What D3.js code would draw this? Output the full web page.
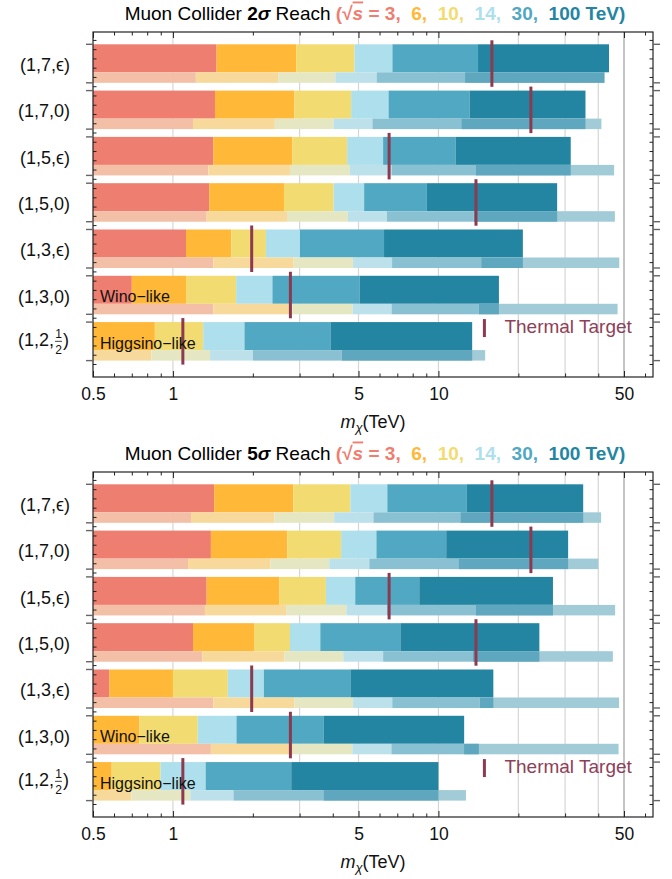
<!DOCTYPE html>
<html>
<head>
<meta charset="utf-8">
<script src="https://cdn.jsdelivr.net/npm/d3@7"></script>
<style>
  body { margin: 0; background: #fff; }
  text { font-family: "Liberation Sans", Arial, sans-serif; }
</style>
</head>
<body>
<div id="chart"></div>
<script>
// row labels (multiplets) and collider energies
var rowLabels = ["(1,7,ϵ)", "(1,7,0)", "(1,5,ϵ)", "(1,5,0)", "(1,3,ϵ)", "(1,3,0)", "(1,2,½)"];
var energies = ["3", "6", "10", "14", "30", "100"];

// reach in TeV, main (thick) bars, per row: 3, 6, 10, 14, 30, 100 TeV
var reach2 = [
  [1.46, 2.92, 4.83, 6.71, 14.1, 43.9],
  [1.44, 2.87, 4.69, 6.49, 13.1, 35.8],
  [1.42, 2.82, 4.53, 6.19, 11.6, 31.5],
  [1.37, 2.62, 4.03, 5.25, 9.05, 28.0],
  [1.12, 1.66, 2.24, 3.01, 6.24, 20.8],
  [0.70, 1.12, 1.73, 2.37, 5.05, 16.9],
  [0.5, 0.855, 1.30, 1.86, 3.92, 13.4]
];
// thin bars (second estimate) per row
var reach2b = [
  [1.22, 2.49, 4.09, 5.85, 12.6, 42.2],
  [1.19, 2.42, 4.03, 5.64, 12.2, 41.1],
  [1.36, 2.76, 4.64, 6.66, 13.8, 45.9],
  [1.34, 2.69, 4.56, 6.40, 13.6, 46.2],
  [1.42, 2.85, 4.77, 6.69, 14.5, 48.0],
  [1.42, 2.82, 4.75, 6.66, 14.2, 47.3],
  [0.5, 0.83, 1.38, 2.0, 4.32, 15.0]
];
var reach5 = [
  [1.43, 2.84, 4.66, 6.42, 12.8, 35.1],
  [1.39, 2.70, 4.30, 5.84, 10.7, 30.8],
  [1.34, 2.52, 3.77, 4.86, 8.47, 27.0],
  [1.19, 2.02, 2.76, 3.59, 7.19, 24.0],
  [0.576, 1.0, 1.61, 2.20, 4.66, 16.1],
  [0.5, 0.748, 1.24, 1.735, 3.69, 12.5],
  [0.5, 0.588, 0.898, 1.328, 2.79, 10.0]
];
var reach5b = [
  [1.17, 2.41, 4.05, 5.69, 12.1, 41.0],
  [1.14, 2.33, 3.88, 5.49, 11.9, 40.0],
  [1.32, 2.67, 4.50, 6.40, 13.8, 46.3],
  [1.29, 2.63, 4.38, 6.19, 13.5, 45.4],
  [1.42, 2.87, 4.77, 6.70, 14.3, 47.9],
  [1.39, 2.83, 4.74, 6.65, 14.2, 47.7],
  [0.5, 0.698, 1.162, 1.69, 3.69, 12.7]
];
// thermal target masses (TeV)
var thermal = [15.9, 22.3, 6.52, 13.85, 1.98, 2.77, 1.09];
var thermalLegendAt = 14.9;

var xTickLabels = [0.5, 1, 5, 10, 50];
var xMinor = [0.6, 0.7, 0.8, 0.9, 2, 3, 4, 6, 7, 8, 9, 20, 30, 40, 60];
var gridAt = [1, 3, 5, 10, 20, 30, 40, 50];

var thickCol = ["#ed7e70", "#ffb838", "#f2dc71", "#ade0ec", "#51a8c2", "#2385a2"];
var thinCol = ["#f4bfa7", "#f7da9b", "#e4e7c2", "#bde1ea", "#8ac1d2", "#a2cbd8"];
var midCol = "#5fa7be";
var thermalCol = "#8b3a50";

var W = 672, H = 879;
var svg = d3.select("#chart").append("svg")
  .attr("width", W).attr("height", H);
svg.append("rect").attr("width", W).attr("height", H).attr("fill", "#fff");

var x = d3.scaleLog().domain([0.5, 64.3]).range([93, 653]);
var frameTop = 32, frameBot = 377;
var y = d3.scaleBand().domain(d3.range(rowLabels.length))
  .range([44.3, 360.6]).paddingInner(0.168).paddingOuter(0);
var bw = y.bandwidth();
var thickH = bw * 0.727;

function drawPanel(off, sigma, thick, thin) {
  var g = svg.append("g").attr("transform", "translate(0," + off + ")");

  // title
  var t = g.append("text").attr("x", 375).attr("y", 19.5)
    .attr("text-anchor", "middle").attr("font-size", 19)
    .style("white-space", "pre");
  t.append("tspan").text("Muon Collider ");
  t.append("tspan").attr("font-weight", "bold").text(sigma);
  t.append("tspan").attr("font-weight", "bold").attr("font-style", "italic").text("σ");
  t.append("tspan").text(" Reach ");
  t.append("tspan").attr("font-weight", "bold").attr("fill", thickCol[0]).text("(√");
  t.append("tspan").attr("font-weight", "bold").attr("font-style", "italic")
    .attr("fill", thickCol[0]).style("text-decoration", "overline").text("s");
  t.append("tspan").attr("font-weight", "bold").attr("fill", thickCol[0]).text(" = 3,");
  energies.slice(1).forEach(function(e, i) {
    t.append("tspan").attr("font-weight", "bold").attr("fill", thickCol[i + 1])
      .text("  " + e + (i == 4 ? " TeV)" : ","));
  });

  // grid lines
  g.selectAll(".grid").data(gridAt).enter().append("line")
    .attr("x1", function(d) { return x(d); }).attr("x2", function(d) { return x(d); })
    .attr("y1", frameTop).attr("y2", frameBot)
    .attr("stroke", function(d) { return d == 50 ? "#c4c4c4" : "#d6d6d6"; })
    .attr("stroke-width", function(d) { return d == 50 ? 2 : 1.2; });

  // thick bars
  thick.forEach(function(ends, r) {
    ends.forEach(function(e, j) {
      var s = j == 0 ? 0.5 : ends[j - 1];
      if (e <= s) return;
      g.append("rect").attr("x", x(s)).attr("y", y(r))
        .attr("width", x(e) - x(s)).attr("height", thickH)
        .attr("fill", thickCol[j]);
    });
  });

  // thin bars
  thin.forEach(function(ends, r) {
    var yy = y(r) + thickH, hh = bw - thickH;
    ends.forEach(function(e, j) {
      var s = j == 0 ? 0.5 : ends[j - 1];
      if (e <= s) return;
      g.append("rect").attr("x", x(s)).attr("y", yy)
        .attr("width", x(e) - x(s)).attr("height", hh)
        .attr("fill", thinCol[j]);
    });
    // overlap band between 30 TeV thin end and 100 TeV main end
    var a = ends[4], T = thick[r][5];
    var lo = Math.min(a, T), hi = Math.min(Math.max(a, T), ends[5]);
    if (hi > lo) {
      g.append("rect").attr("x", x(lo)).attr("y", yy)
        .attr("width", x(hi) - x(lo)).attr("height", hh)
        .attr("fill", midCol);
    }
  });

  // thermal target
  g.selectAll(".therm").data(thermal).enter().append("line")
    .attr("x1", function(d) { return x(d); }).attr("x2", function(d) { return x(d); })
    .attr("y1", function(d, i) { return y(i) - 4; })
    .attr("y2", function(d, i) { return y(i) + bw + 4; })
    .attr("stroke", thermalCol).attr("stroke-width", 3);

  g.append("line").attr("x1", x(thermalLegendAt)).attr("x2", x(thermalLegendAt))
    .attr("y1", y(6) - 3).attr("y2", y(6) + 15)
    .attr("stroke", thermalCol).attr("stroke-width", 3);
  g.append("text").attr("x", x(thermalLegendAt) + 20).attr("y", y(6) + 11)
    .attr("font-size", 19).attr("fill", "#8e4058").text("Thermal Target");

  g.append("text").attr("x", 100).attr("y", y(5) + 26.5)
    .attr("font-size", 16).attr("fill", "#111").text("Wino−like");
  g.append("text").attr("x", 100).attr("y", y(6) + 26.5)
    .attr("font-size", 16).attr("fill", "#111").text("Higgsino−like");

  // frame
  g.append("rect").attr("x", 93).attr("y", frameTop)
    .attr("width", 653 - 93).attr("height", frameBot - frameTop)
    .attr("fill", "none").attr("stroke", "#222").attr("stroke-width", 1.2);

  // x axes
  var bot = g.append("g").attr("transform", "translate(0," + frameBot + ")")
    .call(d3.axisBottom(x).tickValues(xTickLabels).tickSize(-6).tickPadding(11)
      .tickFormat(function(d) { return d; }));
  g.append("g").attr("transform", "translate(0," + frameBot + ")")
    .call(d3.axisBottom(x).tickValues(xMinor).tickSize(-3.5).tickFormat(""));
  g.append("g").attr("transform", "translate(0," + frameTop + ")")
    .call(d3.axisTop(x).tickValues(xTickLabels).tickSize(-6).tickFormat(""));
  g.append("g").attr("transform", "translate(0," + frameTop + ")")
    .call(d3.axisTop(x).tickValues(xMinor).tickSize(-3.5).tickFormat(""));
  g.selectAll(".domain").remove();
  g.selectAll(".tick line").attr("stroke", "#222");
  bot.selectAll(".tick text").attr("font-size", 17.5).attr("fill", "#111")
    .attr("font-family", "Liberation Sans, Arial, sans-serif");

  // y ticks
  var step = y.step();
  var minor = d3.range(0, 36).map(function(k) { return y(0) - (step - bw) / 2 + k * step / 5; })
    .filter(function(v) { return v > frameTop + 2 && v < frameBot - 2; });
  var major = [];
  rowLabels.forEach(function(l, i) { major.push(y(i), y(i) + bw); });
  [93, 653].forEach(function(xx) {
    var dir = xx == 93 ? 1 : -1;
    g.selectAll(null).data(minor).enter().append("line")
      .attr("x1", xx).attr("x2", xx + dir * 3.5)
      .attr("y1", function(d) { return d; }).attr("y2", function(d) { return d; })
      .attr("stroke", "#222");
    g.selectAll(null).data(major).enter().append("line")
      .attr("x1", xx).attr("x2", xx - dir * 7)
      .attr("y1", function(d) { return d; }).attr("y2", function(d) { return d; })
      .attr("stroke", "#666").attr("stroke-width", 1.4);
  });

  // row labels
  rowLabels.forEach(function(l, i) {
    var cy = y(i) + bw / 2;
    if (l.indexOf("½") < 0) {
      g.append("text").attr("x", 70).attr("y", cy + 7.5).attr("text-anchor", "end")
        .attr("font-size", 18).attr("fill", "#111").text(l);
    } else {
      g.append("text").attr("x", 54).attr("y", cy + 4.5).attr("text-anchor", "end")
        .attr("font-size", 18).attr("fill", "#111").text("(1,2,");
      g.append("text").attr("x", 58.5).attr("y", cy - 3.5).attr("text-anchor", "middle")
        .attr("font-size", 12).attr("fill", "#111").text("1");
      g.append("line").attr("x1", 55).attr("x2", 62).attr("y1", cy).attr("y2", cy)
        .attr("stroke", "#111").attr("stroke-width", 0.8);
      g.append("text").attr("x", 58.5).attr("y", cy + 13).attr("text-anchor", "middle")
        .attr("font-size", 12).attr("fill", "#111").text("2");
      g.append("text").attr("x", 63).attr("y", cy + 4.5)
        .attr("font-size", 18).attr("fill", "#111").text(")");
    }
  });

  // x title
  var xt = g.append("text").attr("x", 373).attr("y", 427.5).attr("text-anchor", "middle")
    .attr("font-size", 18).attr("fill", "#111");
  xt.append("tspan").attr("font-style", "italic").text("m");
  xt.append("tspan").attr("font-style", "italic").attr("font-size", 13).attr("dy", 4).text("χ");
  xt.append("tspan").attr("dy", -4).text("(TeV)");
}

drawPanel(0, "2", reach2, reach2b);
drawPanel(440, "5", reach5, reach5b);
</script>
</body>
</html>
